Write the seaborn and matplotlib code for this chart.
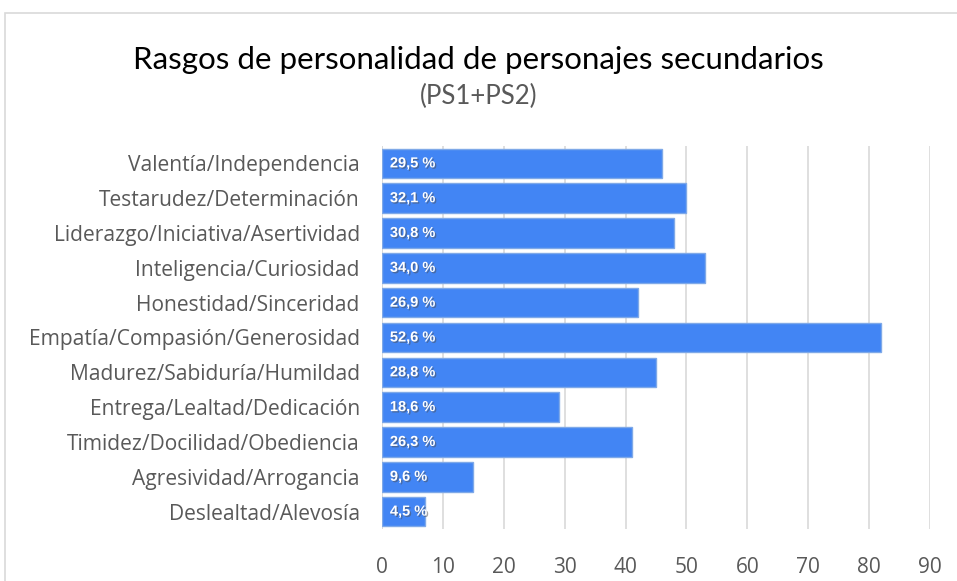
import matplotlib
matplotlib.use("Agg")
import matplotlib.pyplot as plt
import matplotlib.patheffects as pe
import seaborn as sns
import pandas as pd

# data
rasgos = ["Valentía/Independencia", "Testarudez/Determinación",
          "Liderazgo/Iniciativa/Asertividad", "Inteligencia/Curiosidad",
          "Honestidad/Sinceridad", "Empatía/Compasión/Generosidad",
          "Madurez/Sabiduría/Humildad", "Entrega/Lealtad/Dedicación",
          "Timidez/Docilidad/Obediencia", "Agresividad/Arrogancia",
          "Deslealtad/Alevosía"]
frecuencia = [46, 50, 48, 53, 42, 82, 45, 29, 41, 15, 7]
porcentaje = ["29,5 %", "32,1 %", "30,8 %", "34,0 %", "26,9 %", "52,6 %",
              "28,8 %", "18,6 %", "26,3 %", "9,6 %", "4,5 %"]
x_ticks = [0, 10, 20, 30, 40, 50, 60, 70, 80, 90]

df = pd.DataFrame({"rasgo": rasgos, "n": frecuencia})

sns.set_style("white")
plt.rcParams["font.family"] = ["Open Sans", "DejaVu Sans"]

fig = plt.figure(figsize=(9.57, 5.81), dpi=100)
ax = fig.add_axes([382 / 957, 1 - 529 / 581, (930 - 382) / 957, (529 - 146) / 581])

sns.barplot(data=df, y="rasgo", x="n", orient="h", color="#4285f4",
            saturation=1, width=0.85, edgecolor="#7fa9e8", linewidth=1, ax=ax)

for i, lab in enumerate(porcentaje):
    ax.text(1.3, i, lab, color="white", fontsize=10.5, fontweight="bold",
            family="Liberation Sans", va="center", ha="left",
            path_effects=[pe.withSimplePatchShadow(offset=(1, -1), alpha=0.5)])

ax.set_xlim(0, 90)
ax.set_xticks(x_ticks)
ax.xaxis.grid(True, color="#d9d9d9", linewidth=1.2)
ax.set_axisbelow(True)
for s in ax.spines.values():
    s.set_visible(False)
ax.tick_params(axis="x", labelsize=15, colors="#595959", pad=20, length=0)
ax.tick_params(axis="y", labelsize=15.1, colors="#595959", pad=16, length=0)
ax.set_xlabel("")
ax.set_ylabel("")
ax.axvline(0, color="#d9d9d9", linewidth=1.2, zorder=0)

fig.text(0.5, 1 - 60 / 581, "Rasgos de personalidad de personajes secundarios",
         ha="center", va="center", fontsize=22.5, color="black", family="Lato")
fig.text(0.5, 1 - 96 / 581, "(PS1+PS2)", ha="center", va="center",
         fontsize=18.5, color="#595959", family="Lato")

# chart frame
fig.patches.append(plt.Rectangle((5 / 957, -0.1), 1.0, 1 - 13 / 581 + 0.1,
                                 transform=fig.transFigure, fill=False,
                                 edgecolor="#d9d9d9", linewidth=1.2))

fig.savefig("out.png", dpi=100)
